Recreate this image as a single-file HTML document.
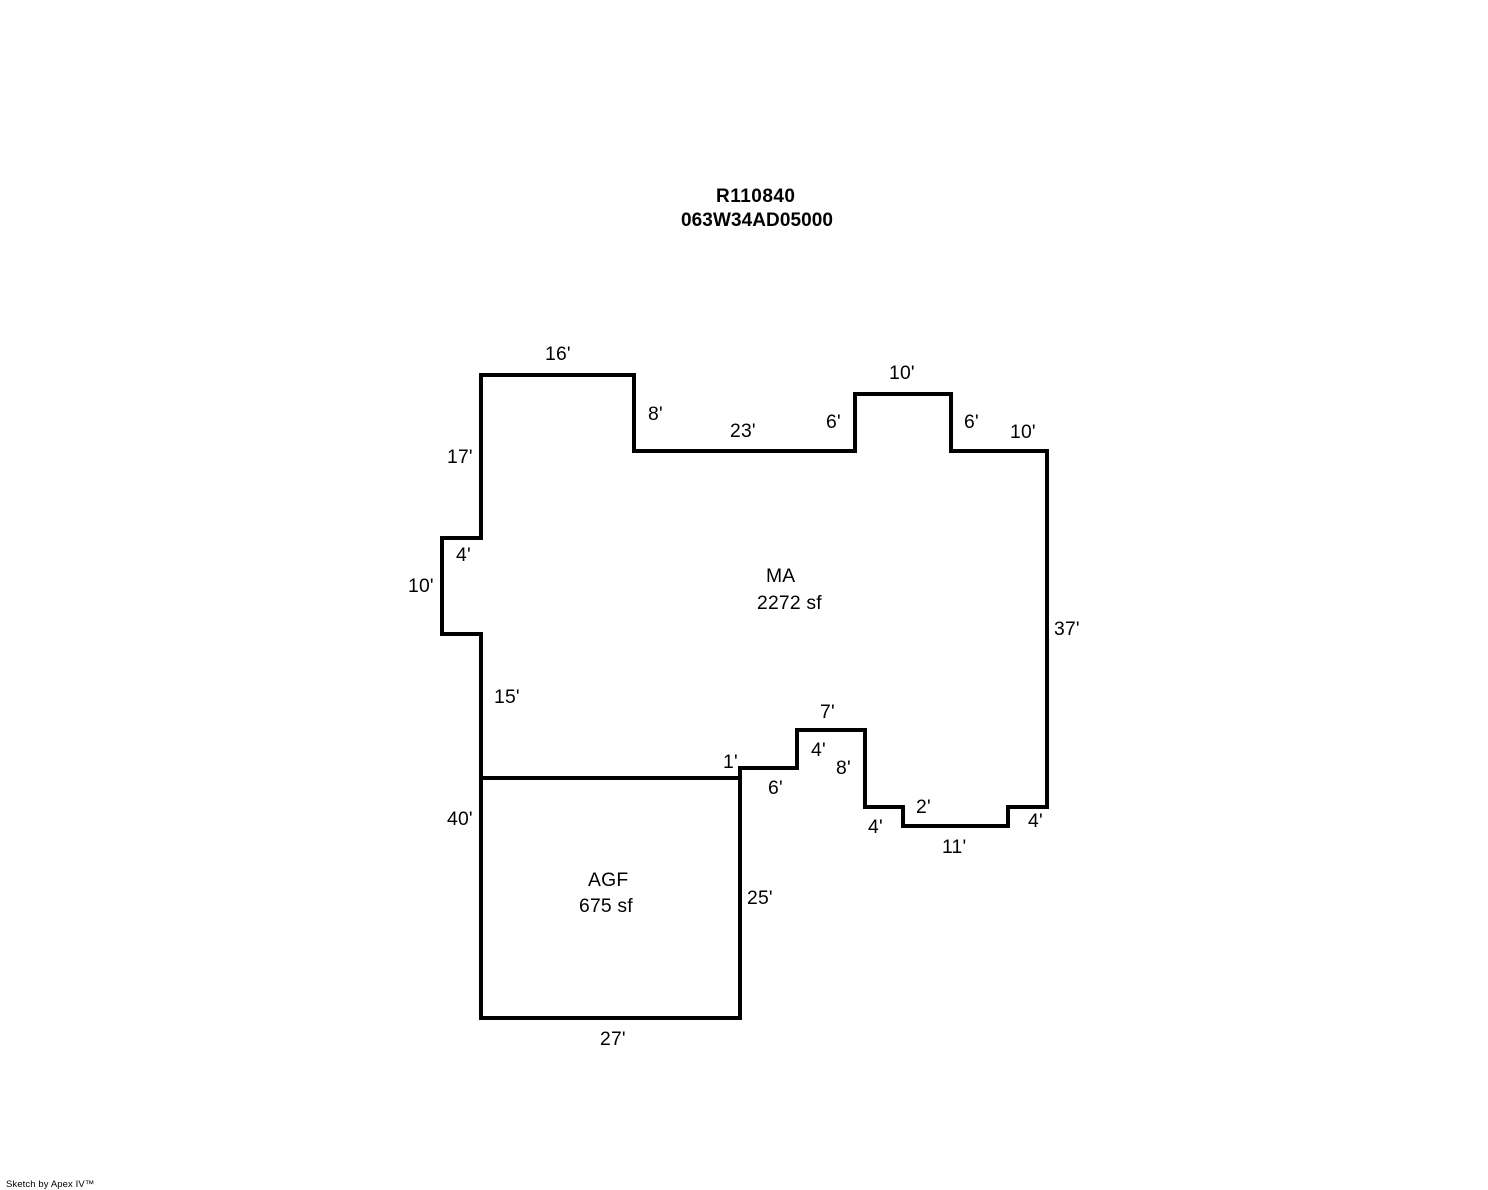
<!DOCTYPE html>
<html>
<head>
<meta charset="utf-8">
<style>
html,body{margin:0;padding:0;background:#fff;}
svg{display:block;}
text{font-family:"Liberation Sans",Arial,sans-serif;font-size:19.33px;letter-spacing:.2px;fill:#000;}
.b{font-weight:bold;font-size:19px;letter-spacing:0;}
.s{font-size:9.5px;letter-spacing:.1px;}
</style>
</head>
<body>
<svg width="1488" height="1190" viewBox="0 0 1488 1190" xmlns="http://www.w3.org/2000/svg">
<rect width="1488" height="1190" fill="#fff"/>
<g fill="none" stroke="#000" stroke-width="4" stroke-linejoin="miter" stroke-linecap="square">
<path d="M481 375H634V451H855V394H951V451H1047V807H1008V826H903V807H865V730H797V768H740V778H481V634H442V538H481Z"/>
<path d="M481 778V1018H740V778"/>
</g>
<text class="b" x="716" y="202" textLength="79" lengthAdjust="spacing">R110840</text>
<text class="b" x="681" y="226" textLength="152" lengthAdjust="spacing">063W34AD05000</text>
<text x="545" y="360">16'</text>
<text x="648" y="420">8'</text>
<text x="730" y="437">23'</text>
<text x="826" y="428">6'</text>
<text x="889" y="379">10'</text>
<text x="964" y="428">6'</text>
<text x="1010" y="438">10'</text>
<text x="447" y="463">17'</text>
<text x="456" y="561">4'</text>
<text x="408" y="592">10'</text>
<text x="1054" y="635">37'</text>
<text x="494" y="703">15'</text>
<text x="766" y="582">MA</text>
<text x="757" y="609">2272 sf</text>
<text x="820" y="718">7'</text>
<text x="811" y="756">4'</text>
<text x="836" y="774">8'</text>
<text x="723" y="768">1'</text>
<text x="768" y="794">6'</text>
<text x="916" y="813">2'</text>
<text x="868" y="833">4'</text>
<text x="1028" y="827">4'</text>
<text x="942" y="853">11'</text>
<text x="447" y="825">40'</text>
<text x="747" y="904">25'</text>
<text x="588" y="886">AGF</text>
<text x="579" y="912">675 sf</text>
<text x="600" y="1045">27'</text>
<text class="s" x="6" y="1187">Sketch by Apex IV™</text>
</svg>
</body>
</html>
